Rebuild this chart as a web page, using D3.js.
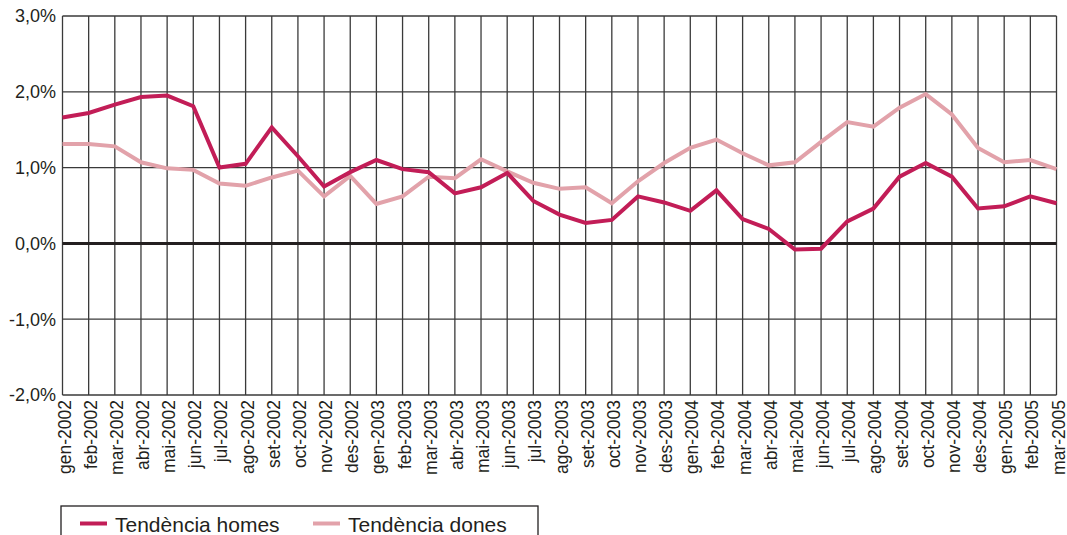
<!DOCTYPE html>
<html><head><meta charset="utf-8">
<script src="https://cdn.jsdelivr.net/npm/d3@7"></script>
<style>body{margin:0;background:#fff}svg{display:block;font-family:"Liberation Sans",Arial,sans-serif}</style>
</head><body>
<svg id="c" width="1067" height="535"></svg>
<script>
const months = ["gen-2002","feb-2002","mar-2002","abr-2002","mai-2002","jun-2002","jul-2002","ago-2002","set-2002","oct-2002","nov-2002","des-2002",
"gen-2003","feb-2003","mar-2003","abr-2003","mai-2003","jun-2003","jul-2003","ago-2003","set-2003","oct-2003","nov-2003","des-2003",
"gen-2004","feb-2004","mar-2004","abr-2004","mai-2004","jun-2004","jul-2004","ago-2004","set-2004","oct-2004","nov-2004","des-2004",
"gen-2005","feb-2005","mar-2005"];
const homes = [1.66,1.72,1.83,1.93,1.95,1.81,1.00,1.05,1.53,1.15,0.75,0.94,
1.10,0.98,0.94,0.66,0.74,0.93,0.56,0.38,0.27,0.31,0.62,0.54,
0.43,0.70,0.32,0.19,-0.08,-0.07,0.29,0.46,0.88,1.06,0.88,0.46,
0.49,0.62,0.53];
const dones = [1.31,1.31,1.28,1.07,0.99,0.97,0.79,0.76,0.87,0.96,0.62,0.89,
0.52,0.62,0.88,0.86,1.11,0.95,0.80,0.72,0.74,0.53,0.82,1.06,
1.26,1.37,1.19,1.03,1.07,1.34,1.60,1.54,1.79,1.97,1.70,1.26,
1.07,1.10,0.98];
const yTicks = [-2,-1,0,1,2,3];
const seriesNames = ["Tendència homes","Tendència dones"];
const colors = ["#c21d57","#e2a2aa"];

const svg = d3.select("#c");
const L=62.5, R=1056.5, T=16, B=395;
const x = d3.scalePoint().domain(months).range([L,R]);
const y = d3.scaleLinear().domain([-2,3]).range([B,T]);
const fmt = v => d3.format(".1f")(v).replace("\u2212","-").replace(".",",")+"%";

// vertical grid
svg.append("g").selectAll("line").data(months).join("line")
  .attr("x1",d=>x(d)).attr("x2",d=>x(d)).attr("y1",T).attr("y2",B)
  .attr("stroke","#3a3a3a").attr("stroke-width",1.3);
// horizontal grid
svg.append("g").selectAll("line").data(yTicks.filter(v=>v!==0)).join("line")
  .attr("x1",L).attr("x2",R).attr("y1",d=>y(d)).attr("y2",d=>y(d))
  .attr("stroke","#3a3a3a").attr("stroke-width",1.3);
// zero line
svg.append("line").attr("x1",L).attr("x2",R).attr("y1",y(0)).attr("y2",y(0)).attr("stroke","#231f20").attr("stroke-width",3);

// y labels
svg.append("g").selectAll("text").data(yTicks).join("text")
  .attr("x",56).attr("y",d=>y(d)).attr("dy","0.36em").attr("text-anchor","end")
  .attr("font-size",18).attr("fill","#231f20").text(fmt);
// x labels
svg.append("g").selectAll("text").data(months).join("text")
  .attr("transform",d=>`translate(${x(d)+8},${B+5}) rotate(-90)`)
  .attr("text-anchor","end").attr("font-size",17.5).attr("fill","#231f20").text(d=>d);

// lines
const line = d3.line().x((d,i)=>x(months[i])).y(d=>y(d));
[dones,homes].forEach((s,k)=>{
  const i = k===0?1:0;
  svg.append("path").datum(s).attr("d",line).attr("fill","none")
    .attr("stroke",colors[i]).attr("stroke-width",4);
});

// legend
const lg = svg.append("g");
lg.append("rect").attr("x",61).attr("y",506).attr("width",477).attr("height",40).attr("fill","none").attr("stroke","#231f20").attr("stroke-width",1.3);
const lx=[80,313];
seriesNames.forEach((n,i)=>{
  lg.append("line").attr("x1",lx[i]).attr("x2",lx[i]+27).attr("y1",523.5).attr("y2",523.5).attr("stroke",colors[i]).attr("stroke-width",4);
  lg.append("text").attr("x",lx[i]+35).attr("y",531.5).attr("font-size",21).attr("fill","#231f20").text(n);
});
</script>
</body></html>
